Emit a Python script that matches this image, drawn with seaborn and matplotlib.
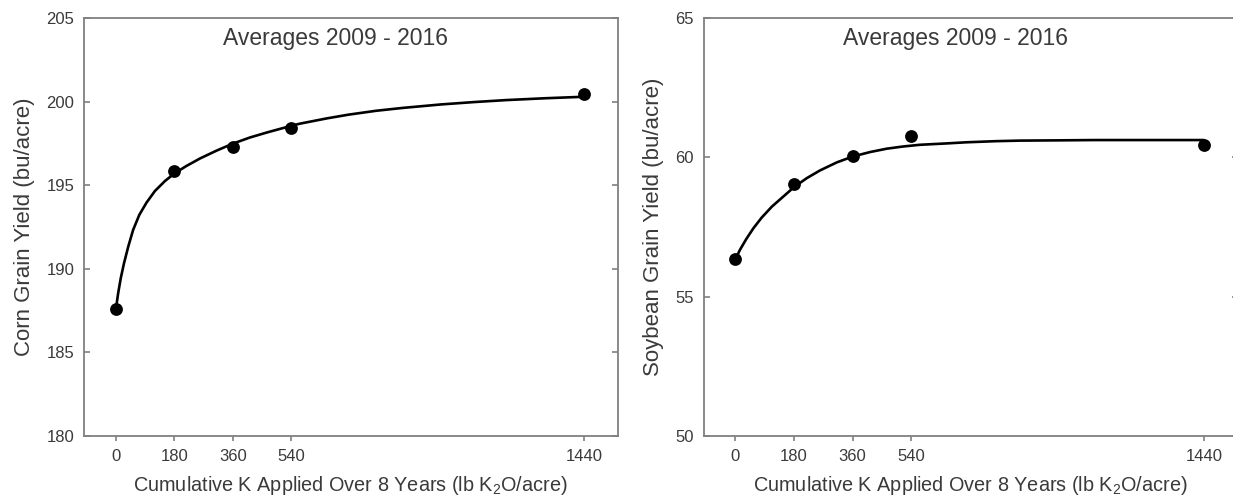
import numpy as np
import pandas as pd
import matplotlib
matplotlib.use("Agg")
import matplotlib.pyplot as plt
import seaborn as sns

# ---- data ----
k_applied = [0, 180, 360, 540, 1440]
corn_yield = [187.58, 195.85, 197.27, 198.40, 200.45]
soy_yield = [56.34, 59.03, 60.05, 60.77, 60.44]

# fitted response curves
corn_curve_x = [0, 7, 15, 25, 38, 53, 72, 94, 120, 151, 180, 217, 259, 310,
                359, 412, 464, 539, 566, 650, 716, 800, 881, 1000, 1100, 1200,
                1320, 1440]
corn_curve_y = [187.58, 188.53, 189.43, 190.33, 191.32, 192.32, 193.22, 193.95,
                194.65, 195.25, 195.70, 196.15, 196.60, 197.07, 197.48, 197.85,
                198.15, 198.55, 198.68, 199.00, 199.22, 199.45, 199.62, 199.83,
                199.97, 200.09, 200.20, 200.29]
soy_curve_x = [0, 14, 33, 55, 81, 112, 148, 180, 219, 260, 312, 361, 414, 465,
               516, 567, 650, 710, 800, 874, 1000, 1100, 1200, 1440]
soy_curve_y = [56.34, 56.68, 57.06, 57.45, 57.84, 58.23, 58.60, 58.93, 59.25,
               59.53, 59.82, 60.03, 60.19, 60.31, 60.39, 60.45, 60.50, 60.54,
               60.58, 60.60, 60.61, 60.62, 60.62, 60.62]

x_ticks = [0, 180, 360, 540, 1440]
corn_yticks = [180, 185, 190, 195, 200, 205]
soy_yticks = [50, 55, 60, 65]
title_text = "Averages 2009 - 2016"
xlabel_text = "Cumulative K Applied Over 8 Years (lb K$_\\mathregular{2}$O/acre)"
corn_ylabel = "Corn Grain Yield (bu/acre)"
soy_ylabel = "Soybean Grain Yield (bu/acre)"

sns.set_theme(style="white")
plt.rcParams["font.family"] = ["Liberation Sans", "DejaVu Sans"]
plt.rcParams["mathtext.fontset"] = "custom"
plt.rcParams["mathtext.rm"] = "Liberation Sans"

W, H = 1233, 500
fig = plt.figure(figsize=(W / 100, H / 100), dpi=100)
fig.patch.set_facecolor("white")

def px_axes(l, r, t, b):
    return fig.add_axes([l / W, 1 - b / H, (r - l) / W, (b - t) / H])

ax1 = px_axes(84, 617.5, 18, 436)
ax2 = px_axes(703.5, 1237.5, 18, 436)

text_col = "#3a3a3a"
spine_col = "#808080"

panels = [
    (ax1, corn_yield, corn_curve_x, corn_curve_y, corn_yticks, corn_ylabel, 0.472),
    (ax2, soy_yield, soy_curve_x, soy_curve_y, soy_yticks, soy_ylabel, 0.471),
]

for ax, yv, cx, cy, yt, ylab, tx in panels:
    curve = pd.DataFrame({"x": cx, "y": cy})
    pts = pd.DataFrame({"x": k_applied, "y": yv})
    sns.lineplot(data=curve, x="x", y="y", ax=ax, color="black", linewidth=1.9,
                 sort=False, estimator=None)
    sns.scatterplot(data=pts, x="x", y="y", ax=ax, color="black", s=85,
                    edgecolor="black", linewidth=0, zorder=5)
    ax.set_xlim(-98, 1543)
    ax.set_ylim(yt[0], yt[-1])
    ax.set_xticks(x_ticks)
    ax.set_yticks(yt)
    ax.set_xticklabels([str(v) for v in x_ticks])
    ax.set_yticklabels([str(v) for v in yt])
    ax.tick_params(axis="x", direction="out", length=3.5, width=1.2, colors=spine_col,
                   labelcolor=text_col, labelsize=12, pad=6, bottom=True, top=False)
    ax.tick_params(axis="y", direction="in", length=4.5, width=1.2, colors=spine_col,
                   labelcolor=text_col, labelsize=12, pad=7, left=True, right=True)
    for s in ax.spines.values():
        s.set_color(spine_col)
        s.set_linewidth(1.3)
    ax.set_xlabel(xlabel_text, fontsize=14.3, color=text_col, labelpad=7)
    ax.set_ylabel(ylab, fontsize=16, color=text_col, labelpad=8)
    ax.text(tx, 0.95, title_text, transform=ax.transAxes, ha="center", va="center",
            fontsize=16.5, color=text_col)

fig.savefig("out.png", dpi=100, facecolor="white")
